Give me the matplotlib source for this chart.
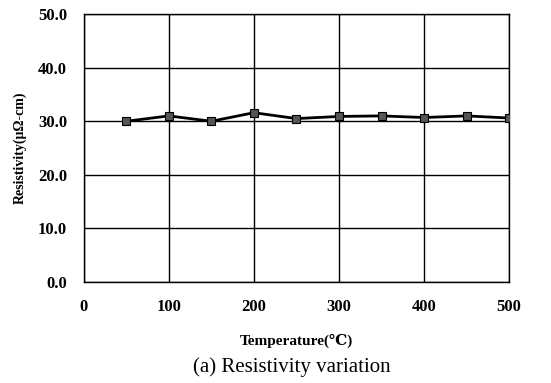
import matplotlib
matplotlib.use("Agg")
import matplotlib.pyplot as plt

temperature = [50, 100, 150, 200, 250, 300, 350, 400, 450, 500]
resistivity = [30.0, 31.0, 30.0, 31.6, 30.5, 30.9, 31.0, 30.7, 31.0, 30.6]

plt.rcParams['font.family'] = ['Liberation Serif', 'DejaVu Serif', 'Noto Sans CJK SC']

fig = plt.figure(figsize=(5.51, 3.83), dpi=100)
ax = fig.add_axes([0.152, 0.264, 0.772, 0.699])

ax.plot(temperature, resistivity, '-', color='black', linewidth=2,
        marker='s', markersize=6, markerfacecolor='#555555', markeredgecolor='black',
        markeredgewidth=0.8, zorder=3)

ax.set_xlim(0, 500)
ax.set_ylim(0, 50)
ax.set_xticks(range(0, 501, 100))
ax.set_yticks(range(0, 51, 10))
ax.set_yticklabels([f"{v:.1f}" for v in range(0, 51, 10)])
ax.grid(True, color='black', linewidth=1)
ax.tick_params(length=0, labelsize=12, pad=12)
for lab in ax.get_xticklabels() + ax.get_yticklabels():
    lab.set_fontweight('bold')
for s in ax.spines.values():
    s.set_color('black')
    s.set_linewidth(1)

ax.set_xlabel("Temperature(℃)", fontsize=11, fontweight='bold', labelpad=14)
ax.set_ylabel("Resistivity(μΩ-cm)", fontsize=10, fontweight='bold', labelpad=8)

fig.text(0.53, 0.03, "(a) Resistivity variation", ha='center', fontsize=15)

fig.savefig("out.png", dpi=100)
